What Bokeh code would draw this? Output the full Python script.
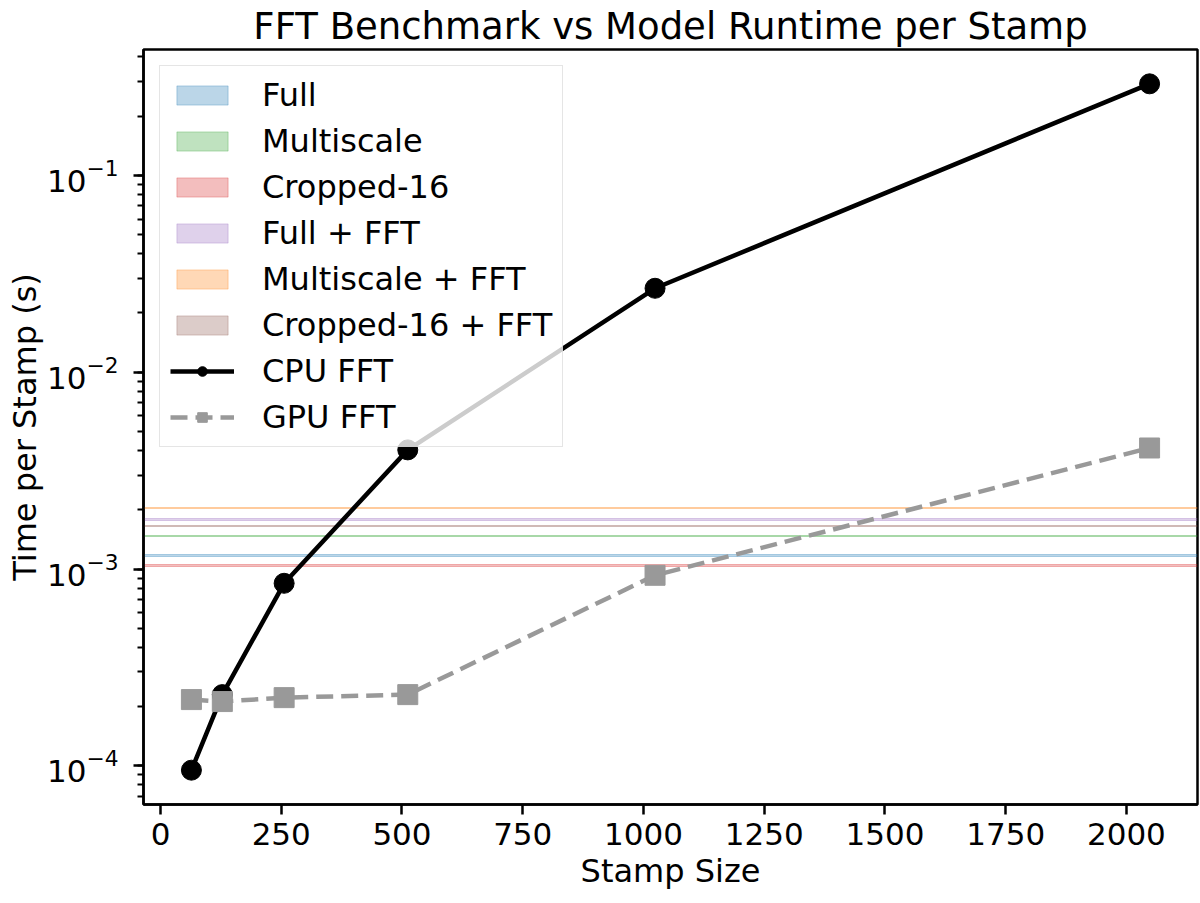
import numpy as np
from bokeh.plotting import figure
from bokeh.models import Range1d, Legend, LegendItem, SingleIntervalTicker, LogTicker
from bokeh.embed import file_html
from bokeh.resources import INLINE

# ---- data ----
stamp_sizes = [64, 128, 256, 512, 1024, 2048]
cpu_fft = [9.5e-5, 2.30e-4, 8.46e-4, 4.03e-3, 2.67e-2, 0.292]
gpu_fft = [2.17e-4, 2.12e-4, 2.22e-4, 2.30e-4, 9.29e-4, 4.12e-3]

model_names = ["Full", "Multiscale", "Cropped-16", "Full + FFT", "Multiscale + FFT", "Cropped-16 + FFT"]
model_mean = [1.17e-3, 1.47e-3, 1.04e-3, 1.78e-3, 2.05e-3, 1.66e-3]
model_std = [8e-6, 1e-5, 1.4e-5, 1.8e-5, 1.2e-5, 1.2e-5]

# ---- styles ----
model_colors = ["#1f77b4", "#2ca02c", "#d62728", "#9467bd", "#ff7f0e", "#8c564b"]
FONT = "DejaVu Sans"

# matplotlib-like 5% margins
xs = np.array(stamp_sizes, dtype=float)
xpad = 0.05 * (xs.max() - xs.min())
ally = np.log10(np.array(cpu_fft + gpu_fft))
ypad = 0.05 * (ally.max() - ally.min())

p = figure(width=1200, height=903, y_axis_type="log",
           x_range=Range1d(xs.min() - xpad, xs.max() + xpad),
           y_range=Range1d(10 ** (ally.min() - ypad), 10 ** (ally.max() + ypad)),
           output_backend="svg", toolbar_location=None,
           min_border_left=143, min_border_right=3, min_border_top=49, min_border_bottom=99)

p.title.text = "FFT Benchmark vs Model Runtime per Stamp"
p.title.text_font = FONT
p.title.text_font_size = "37px"
p.title.text_font_style = "normal"
p.title.text_color = "black"
p.title.align = "center"
p.title.standoff = 4

p.xgrid.visible = False
p.ygrid.visible = False
p.outline_line_color = "black"
p.outline_line_width = 2.5
p.outline_line_alpha = 1.0

for ax in (p.xaxis[0], p.yaxis[0]):
    ax.axis_line_width = 2.5
    ax.major_tick_line_width = 2.5
    ax.minor_tick_line_width = 2
    ax.major_tick_out = 10
    ax.major_tick_in = 0
    ax.minor_tick_out = 6
    ax.minor_tick_in = 0
    ax.major_label_text_font = FONT
    ax.major_label_text_font_size = "31px"
    ax.major_label_text_color = "black"
    ax.axis_label_text_font = FONT
    ax.axis_label_text_font_size = "32px"
    ax.axis_label_text_font_style = "normal"
    ax.axis_label_text_color = "black"

p.xaxis.major_label_standoff = 8
p.yaxis.major_label_standoff = 15
p.xaxis.axis_label = "Stamp Size"
p.yaxis.axis_label = "Time per Stamp (s)"
p.xaxis.ticker = SingleIntervalTicker(interval=250, num_minor_ticks=0)
p.yaxis.ticker = LogTicker(num_minor_ticks=10)
p.xaxis.axis_label_standoff = 4
p.yaxis.axis_label_standoff = 0

items = []
for name, m, s, c in zip(model_names, model_mean, model_std, model_colors):
    r = p.hstrip(y0=[m - s], y1=[m + s], fill_color=c, fill_alpha=0.3,
                 line_color=c, line_alpha=0.3, line_width=1)
    items.append(LegendItem(label=name, renderers=[r]))

cpu_line = p.line(stamp_sizes, cpu_fft, line_color="black", line_width=4.5)
cpu_pts = p.scatter(stamp_sizes, cpu_fft, marker="circle", size=20, fill_color="black", line_color="black")
gpu_line = p.line(stamp_sizes, gpu_fft, line_color="#999999", line_width=4.5, line_dash="17 8")
gpu_pts = p.scatter(stamp_sizes, gpu_fft, marker="square", size=20, fill_color="#999999", line_color="#999999")
items.append(LegendItem(label="CPU FFT", renderers=[cpu_line, cpu_pts]))
items.append(LegendItem(label="GPU FFT", renderers=[gpu_line, gpu_pts]))

legend = Legend(items=items, location="top_left")
legend.margin = 16
legend.padding = 10
legend.spacing = 8
legend.label_text_font = FONT
legend.label_text_font_size = "32px"
legend.label_text_color = "black"
legend.glyph_width = 64
legend.glyph_height = 24
legend.label_height = 36
legend.label_standoff = 28
legend.border_line_color = "#cccccc"
legend.border_line_width = 1.5
legend.background_fill_alpha = 0.8
p.add_layout(legend)

open("out.html", "w").write(file_html(p, INLINE))
